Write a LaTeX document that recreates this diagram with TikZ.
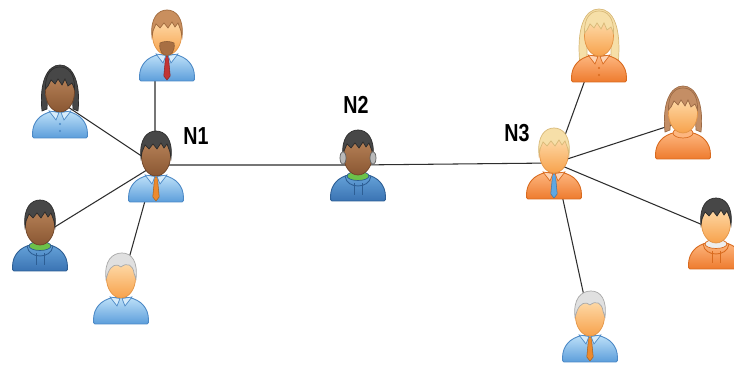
\documentclass[tikz,border=0pt]{standalone}
\usepackage{fontspec}
\setmainfont{Liberation Sans}
% skin tones: A = top shade, B = bottom shade, C = outline
\definecolor{lightskinA}{HTML}{FFE2B6}
\definecolor{lightskinB}{HTML}{F7A24C}
\definecolor{lightskinC}{HTML}{E39445}
\definecolor{darkskinA}{HTML}{BC875C}
\definecolor{darkskinB}{HTML}{8A5733}
\definecolor{darkskinC}{HTML}{6E4326}
% clothing
\definecolor{blueshirtA}{HTML}{BDE0F8}
\definecolor{blueshirtB}{HTML}{5C9EDB}
\definecolor{blueshirtC}{HTML}{4C89C6}
\definecolor{bluehoodA}{HTML}{66A3D9}
\definecolor{bluehoodB}{HTML}{3A73B3}
\definecolor{bluehoodC}{HTML}{2D5E94}
\definecolor{orangeshirtA}{HTML}{FDB67F}
\definecolor{orangeshirtB}{HTML}{EE7B2E}
\definecolor{orangeshirtC}{HTML}{D86A1E}
% hair
\definecolor{darkhairA}{HTML}{474747}
\definecolor{darkhairC}{HTML}{2B2B2B}
\definecolor{brownhairA}{HTML}{C98F5E}
\definecolor{brownhairC}{HTML}{A06A3D}
\definecolor{auburnhairA}{HTML}{C48E65}
\definecolor{auburnhairC}{HTML}{9C6A45}
\definecolor{blondhairA}{HTML}{F6DFA8}
\definecolor{blondhairC}{HTML}{D8B978}
\definecolor{grayhairA}{HTML}{E0E0E0}
\definecolor{grayhairC}{HTML}{A8A8A8}
% details
\definecolor{tiered}{HTML}{C23535}
\definecolor{tieorange}{HTML}{EC8A2E}
\definecolor{tieblue}{HTML}{5EA8E4}
\definecolor{beard}{HTML}{A86F43}
\definecolor{collargreen}{HTML}{6CC24A}
\definecolor{collarwhite}{HTML}{EDEDED}
\definecolor{wire}{HTML}{2E2E2E}

% defaults for optional person parts
\def\ptiedraw{}
\def\pbearddraw{}
\def\pneckcol{collargreen}

% ---- person parts (local units: 1 = one pixel, origin at bottom centre) ----
\newcommand\persontie[1]{%
  \path[fill=#1, draw=#1!70!black, line width=0.3pt]
    (-2.6,26) -- (2.6,26) -- (1.8,21) -- (3.2,6) -- (0,2) -- (-3.2,6) -- (-1.8,21) -- cycle;}
\newcommand\personflaps{%
  \path[fill=\psA!60!white, draw=\psC, line width=0.4pt]
    (-11,28) -- (-1,26.5) -- (-4,19) -- cycle
    (11,28) -- (1,26.5) -- (4,19) -- cycle;}
\newcommand\wearshirt{\ptiedraw\personflaps}
\newcommand\wearblouse{\personflaps
  \fill[\psC] (0,15) circle[radius=1.1] (0,8) circle[radius=1.1];}
\newcommand\wearhoodie{%
  \path[fill=\pneckcol, draw=\psC, line width=0.4pt] (0,26) ellipse [x radius=11, y radius=4.5];
  \draw[\psC, line width=0.5pt] (-13,26) .. controls (-12,19) and (-6,16) .. (0,16)
    .. controls (6,16) and (12,19) .. (13,26);
  \draw[\psC, line width=0.5pt] (-4,19) -- (-4,7) (4,19) -- (4,7);}
\newcommand\wearsweater{%
  \path[fill=\psA, draw=\psC, line width=0.4pt] (0,27) ellipse [x radius=10, y radius=5];}
\newcommand\personface{%
  \path[top color=\pfA, bottom color=\pfB, draw=\pfC, line width=0.4pt]
    (0,47) ellipse [x radius=14.5, y radius=20];}
\newcommand\personbeard{%
  \path[fill=beard, draw=beard!80!black, line width=0.3pt]
    (-7,39) .. controls (-8.5,31) and (-4,26.5) .. (0,26.5)
    .. controls (4,26.5) and (8.5,31) .. (7,39)
    .. controls (4,41) and (-4,41) .. cycle;}
% hair, back parts (behind the body and face)
\newcommand\hairbackshort{}
\newcommand\hairbackgray{}
\newcommand\hairbackheadset{}
\newcommand\hairbackbob{%
  \path[fill=\phA, draw=\phC, line width=0.4pt]
    (-18,28) .. controls (-21,56) and (-13,74) .. (0,74)
    .. controls (13,74) and (21,56) .. (18,28)
    -- (13,30) -- (12,50) -- (-12,50) -- (-13,30) -- cycle;}
\newcommand\hairbacklong{%
  \path[fill=\phA, draw=\phC, line width=0.4pt]
    (-19,18) .. controls (-23,56) and (-14,74) .. (0,74)
    .. controls (14,74) and (23,56) .. (19,18)
    -- (12,22) -- (12,50) -- (-12,50) -- (-12,22) -- cycle;}
% hair, front parts (over the face)
\newcommand\hairfrontshort{%
  \path[fill=\phA, draw=\phC, line width=0.4pt]
    (-15,45) .. controls (-17,64) and (-9,72) .. (0,72)
    .. controls (9,72) and (17,64) .. (15,45)
    -- (14,51) -- (11,59) -- (8,55) -- (5,60) -- (1,54) -- (-3,59)
    -- (-7,54) -- (-11,58) -- (-14,51) -- cycle;}
\newcommand\hairfrontbob{%
  \path[fill=\phA, draw=\phC, line width=0.4pt]
    (-14.5,50) .. controls (-15,66) and (-8,72) .. (0,72)
    .. controls (8,72) and (15,66) .. (14.5,50)
    -- (12,56) -- (8,53) -- (5,60) -- (2,54) -- (-2,60) -- (-5,55)
    -- (-9,59) -- (-12,53) -- cycle;}
\newcommand\hairfrontlong{\hairfrontbob}
\newcommand\hairfrontgray{%
  \path[fill=\phA, draw=\phC, line width=0.4pt]
    (-15,46) .. controls (-17,64) and (-9,72) .. (1,72)
    .. controls (11,72) and (17,63) .. (15,46)
    -- (13,52) .. controls (12,60) and (6,63) .. (0,58)
    .. controls (-4,62) and (-10,60) .. (-13,52) -- cycle;}
\newcommand\hairfrontheadset{\hairfrontshort
  \path[fill=gray!55, draw=gray!75!black, line width=0.4pt]
    (-15,44) ellipse [x radius=3, y radius=6.5]
    (15,44) ellipse [x radius=3, y radius=6.5];}

\tikzset{
  pface/.code={\def\pfA{#1A}\def\pfB{#1B}\def\pfC{#1C}},
  pshirt/.code={\def\psA{#1A}\def\psB{#1B}\def\psC{#1C}},
  phair/.code={\def\phA{#1A}\def\phC{#1C}},
  pcut/.code={\def\pcut{#1}},
  pwear/.code={\def\pwear{#1}},
  ptie/.code={\def\ptiedraw{\persontie{#1}}},
  pbeard/.code={\def\pbearddraw{\personbeard}},
  pneck/.code={\def\pneckcol{#1}},
  person/.pic={
    \csname hairback\pcut\endcsname
    \path[top color=\psA, bottom color=\psB, draw=\psC, line width=0.5pt]
      (-26,1) .. controls (-27.5,1) and (-27.5,3) .. (-27.5,5)
      .. controls (-27.5,17) and (-20,25) .. (-8,27.5) -- (8,27.5)
      .. controls (20,25) and (27.5,17) .. (27.5,5)
      .. controls (27.5,3) and (27.5,1) .. (26,1) -- cycle;
    \csname wear\pwear\endcsname
    \personface
    \pbearddraw
    \csname hairfront\pcut\endcsname
  },
  link/.style={draw=wire, line width=0.6pt},
  lab/.style={font=\bfseries\fontsize{14}{14}\selectfont, xscale=0.8, inner sep=0pt}
}

\begin{document}
\begin{tikzpicture}[x=0.02cm, y=0.02cm]
\clip (0,0) rectangle (734,367);
\fill[white] (0,0) rectangle (734,367);

% hubs and attachment points of the links
\coordinate (hub1) at (155,202);
\coordinate (hub2) at (358,202);
\coordinate (hub3) at (555,204);
\coordinate (a1) at (155,297);
\coordinate (a2) at (62,264);
\coordinate (a3) at (45,134);
\coordinate (a4) at (128,105);
\coordinate (b1) at (585,287);
\coordinate (b2) at (675,243);
\coordinate (b3) at (710,139);
\coordinate (b4) at (584,71);

% links (behind the people)
\path[link] (hub1) -- (hub2) -- (hub3);
\path[link] (hub1) -- (a1) (hub1) -- (a2) (hub1) -- (a3) (hub1) -- (a4);
\path[link] (hub3) -- (b1) (hub3) -- (b2) (hub3) -- (b3) (hub3) -- (b4);

% people around N1
\pic[pface=lightskin, pshirt=blueshirt, phair=brownhair, pcut=short, pwear=shirt, ptie=tiered, pbeard] at (167,285) {person};
\pic[pface=darkskin, pshirt=blueshirt, phair=darkhair, pcut=bob, pwear=blouse] at (60,228) {person};
\pic[pface=darkskin, pshirt=bluehood, phair=darkhair, pcut=short, pwear=hoodie, pneck=collargreen] at (40,95) {person};
\pic[pface=lightskin, pshirt=blueshirt, phair=grayhair, pcut=gray, pwear=shirt] at (121,42) {person};
% N1
\pic[pface=darkskin, pshirt=blueshirt, phair=darkhair, pcut=short, pwear=shirt, ptie=tieorange] at (156,164) {person};
% N2
\pic[pface=darkskin, pshirt=bluehood, phair=darkhair, pcut=headset, pwear=hoodie, pneck=collargreen] at (358,165) {person};
% N3
\pic[pface=lightskin, pshirt=orangeshirt, phair=blondhair, pcut=short, pwear=shirt, ptie=tieblue] at (554,167) {person};
% people around N3
\pic[pface=lightskin, pshirt=orangeshirt, phair=blondhair, pcut=long, pwear=blouse] at (599,284) {person};
\pic[pface=lightskin, pshirt=orangeshirt, phair=auburnhair, pcut=bob, pwear=sweater] at (683,207) {person};
\pic[pface=lightskin, pshirt=orangeshirt, phair=darkhair, pcut=short, pwear=hoodie, pneck=collarwhite] at (716,97) {person};
\pic[pface=lightskin, pshirt=blueshirt, phair=grayhair, pcut=gray, pwear=shirt, ptie=tieorange] at (590,4) {person};

% labels
\node[lab] (l1) at (196,231) {N1};
\node[lab] (l2) at (356,262) {N2};
\node[lab] (l3) at (517,234) {N3};
\end{tikzpicture}
\end{document}
